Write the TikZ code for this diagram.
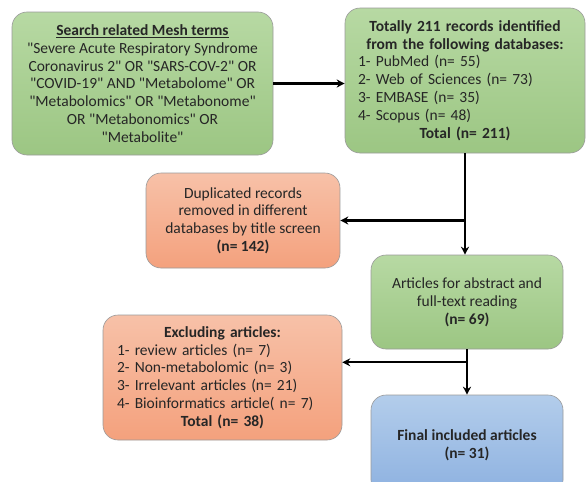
\documentclass[tikz,border=0pt]{standalone}
\usepackage{fontspec}
\setmainfont{Carlito}[Ligatures=TeXOff]
\usetikzlibrary{arrows.meta,calc}
\definecolor{gtop}{HTML}{B7D9A3}
\definecolor{gbot}{HTML}{9CC683}
\definecolor{otop}{HTML}{F7C1A8}
\definecolor{obot}{HTML}{F4A17D}
\definecolor{btop}{HTML}{B3CDEB}
\definecolor{bbot}{HTML}{8DB1E0}
\definecolor{edge}{HTML}{9A9A9A}
\begin{document}
\begin{tikzpicture}[x=1pt,y=-1pt,
  box/.style={draw=edge, line width=0.6pt, rounded corners=15pt, align=center, inner sep=0pt,
    font=\fontsize{15.5}{17.8}\selectfont, text=black!85},
  greenbox/.style={box, top color=gtop, bottom color=gbot},
  orangebox/.style={box, top color=otop, bottom color=obot},
  bluebox/.style={box, top color=btop, bottom color=bbot},
  arr/.style={line width=2.2pt, -{Stealth[length=8pt,width=8pt]}}]
\useasboundingbox (0,0) rectangle (587,482);
\begin{scope}
\clip (0,0) rectangle (587,482);
\node[greenbox, minimum width=261pt, minimum height=143pt] (b1) at (142.5,83.5)
 {\underline{\textbf{Search related Mesh terms}}\\
 "Severe Acute Respiratory Syndrome\\
 Coronavirus 2" OR "SARS-COV-2" OR\\
 "COVID-19" AND "Metabolome" OR\\
 "Metabolomics" OR "Metabonome"\\
 OR "Metabonomics" OR\\
 "Metabolite"};
\node[greenbox, minimum width=240pt, minimum height=145pt, text width=214pt, align=left] (b2) at (465,80.5)
 {\makebox[214pt][c]{\textbf{Totally 211 records identified}}\\
 \makebox[214pt][c]{\textbf{from the following databases:}}\\
 1- PubMed (n= 55)\\
 2- Web of Sciences (n= 73)\\
 3- EMBASE (n= 35)\\
 4- Scopus (n= 48)\\
 \makebox[214pt][c]{\textbf{Total (n= 211)}}};
\node[orangebox, minimum width=194pt, minimum height=95pt] (dup) at (243,220.5)
 {Duplicated records\\ removed in different\\ databases by title screen\\ \textbf{(n= 142)}};
\node[greenbox, minimum width=192pt, minimum height=94pt] (art) at (467,302)
 {Articles for abstract and\\ full-text reading\\ \textbf{(n= 69)}};
\node[orangebox, minimum width=239pt, minimum height=125pt, text width=211pt, align=left] (exc) at (222.5,377.5)
 {\makebox[211pt][c]{\textbf{Excluding articles:}}\\
 1- review articles (n= 7)\\
 2- Non-metabolomic (n= 3)\\
 3- Irrelevant articles (n= 21)\\
 4- Bioinformatics article( n= 7)\\
 \makebox[211pt][c]{\textbf{Total (n= 38)}}};
\node[bluebox, minimum width=192pt, minimum height=100pt] (fin) at (467,445)
 {\textbf{Final included articles}\\ \textbf{(n= 31)}};
\end{scope}
\draw[arr] (b1.east) -- (b1.east -| b2.west);
\draw[arr] (b2.south) -- (b2.south |- art.north);
\draw[arr] (b2.south |- dup.east) -- (dup.east);
\draw[arr] (art.south) -- (fin.north);
\coordinate (j2) at ([yshift=-13pt]art.south);
\draw[arr] (j2) -- (j2 -| exc.east);
\end{tikzpicture}
\end{document}
